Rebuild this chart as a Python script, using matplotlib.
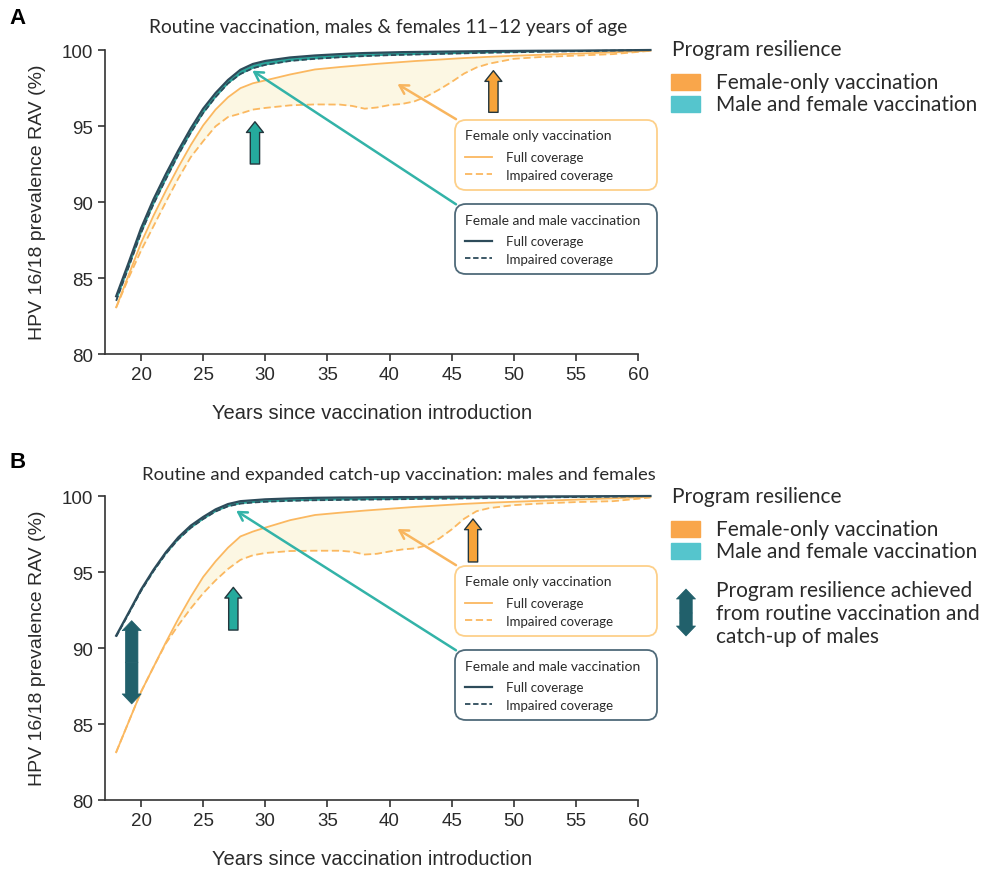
import matplotlib
matplotlib.use('Agg')
import matplotlib.pyplot as plt
from matplotlib.patches import FancyArrowPatch, Rectangle
from matplotlib.lines import Line2D

# years since vaccination introduction (shared x for every curve)
years = [18, 19, 20, 21, 22, 23, 24, 25, 26, 27, 28, 29, 30, 32, 34, 36, 37, 38,
         39, 40, 41, 42, 43, 44, 45, 46, 47, 48, 50, 52, 55, 58, 61]

# Panel A: routine vaccination, 11-12 years
mf_full_a = [83.8, 86.0, 88.27, 90.17, 91.84, 93.39, 94.84, 96.14, 97.17, 98.03, 98.7,
             99.08, 99.28, 99.51, 99.64, 99.73, 99.77, 99.8, 99.82, 99.84, 99.86, 99.87,
             99.88, 99.89, 99.9, 99.91, 99.92, 99.93, 99.94, 99.95, 99.96, 99.98, 100.0]
mf_imp_a = [83.5, 85.7, 87.95, 89.85, 91.5, 93.1, 94.55, 95.85, 96.9, 97.8, 98.42,
            98.8, 99.02, 99.28, 99.42, 99.52, 99.56, 99.6, 99.63, 99.66, 99.68, 99.7,
            99.72, 99.74, 99.76, 99.78, 99.8, 99.82, 99.85, 99.88, 99.92, 99.96, 100.0]
f_full_a = [83.07, 85.19, 87.3, 89.09, 90.74, 92.29, 93.74, 95.04, 96.08, 96.89, 97.49,
            97.81, 98.0, 98.39, 98.72, 98.88, 98.95, 99.02, 99.09, 99.15, 99.21, 99.27,
            99.32, 99.37, 99.42, 99.47, 99.51, 99.55, 99.62, 99.68, 99.76, 99.85, 99.95]
f_imp_a = [83.05, 85.0, 86.8, 88.4, 90.0, 91.55, 92.95, 94.0, 94.98, 95.59, 95.82,
           96.08, 96.19, 96.36, 96.42, 96.41, 96.32, 96.14, 96.22, 96.38, 96.45, 96.62,
           96.95, 97.4, 97.9, 98.45, 98.85, 99.1, 99.42, 99.53, 99.63, 99.73, 99.95]

# Panel B: routine + expanded catch-up
mf_full_b = [90.81, 92.32, 93.84, 95.14, 96.3, 97.28, 98.05, 98.62, 99.12, 99.47, 99.66,
             99.72, 99.78, 99.84, 99.88, 99.9, 99.9, 99.91, 99.92, 99.92, 99.93, 99.93,
             99.94, 99.94, 99.95, 99.95, 99.95, 99.96, 99.96, 99.97, 99.98, 99.99, 100.0]
mf_imp_b = [90.75, 92.25, 93.75, 95.05, 96.2, 97.15, 97.9, 98.48, 98.98, 99.32, 99.5,
            99.57, 99.62, 99.68, 99.72, 99.74, 99.75, 99.76, 99.77, 99.78, 99.79, 99.8,
            99.81, 99.82, 99.83, 99.84, 99.85, 99.86, 99.88, 99.9, 99.93, 99.96, 100.0]
f_full_b = [83.14, 85.13, 87.11, 88.74, 90.37, 91.92, 93.36, 94.67, 95.7, 96.6, 97.34,
            97.66, 97.92, 98.41, 98.75, 98.9, 98.97, 99.04, 99.1, 99.16, 99.22, 99.28,
            99.33, 99.38, 99.43, 99.48, 99.52, 99.56, 99.62, 99.68, 99.76, 99.85, 99.95]
f_imp_b = [83.14, 85.13, 87.11, 88.74, 90.3, 91.5, 92.6, 93.6, 94.45, 95.2, 95.8,
           96.1, 96.25, 96.38, 96.4, 96.4, 96.33, 96.15, 96.2, 96.35, 96.48, 96.55,
           96.75, 97.2, 97.8, 98.5, 99.0, 99.2, 99.4, 99.5, 99.6, 99.66, 99.9]

xticks = [20, 25, 30, 35, 40, 45, 50, 55, 60]
yticks = [80, 85, 90, 95, 100]

navy = '#2d4b5a'
orange_line = '#fbb860'
fill_yellow = '#fcf7e3'
teal_band = '#2aa59b'
teal_arrow = '#25aa9d'
orange_arrow = '#f7a43a'
arrow_edge = '#23363d'
dark_teal = '#21606b'
teal_ann = '#33b3a8'
orange_ann = '#f8b55e'
box_orange = '#fdd08a'
box_navy = '#4f6a79'
patch_orange = '#f9a64b'
patch_teal = '#55c5cd'
txt = '#2a2a2a'

plt.rcParams['font.family'] = ['Liberation Sans', 'DejaVu Sans']

W, H = 982, 870
fig = plt.figure(figsize=(9.82, 8.70), dpi=100)
ax_a = fig.add_axes([0.1069, 0.59195, 0.5580, 0.35816])
ax_b = fig.add_axes([0.1069, 0.07931, 0.5580, 0.35816])

up_style = 'simple,head_length=0.77,head_width=1.22,tail_width=0.67'


def draw_panel(ax, mf_full, mf_imp, f_full, f_imp, teal_up, orange_up, teal_tip, orange_tip):
    ax.fill_between(years, f_imp, f_full, color=fill_yellow, lw=0, zorder=1)
    ax.fill_between(years, mf_imp, mf_full, color=teal_band, lw=0, zorder=2)
    ax.plot(years, f_full, color=orange_line, lw=1.3, zorder=3)
    ax.plot(years, f_imp, color=orange_line, lw=1.3, ls=(0, (4, 2)), zorder=3)
    ax.plot(years, mf_full, color=navy, lw=1.6, zorder=4)
    ax.plot(years, mf_imp, color=navy, lw=1.3, ls=(0, (3, 1.5)), zorder=4)

    # fat "resilience" arrows
    for (x, y0, y1), fc in [(teal_up, teal_arrow), (orange_up, orange_arrow)]:
        ax.add_patch(FancyArrowPatch((x, y0), (x, y1), arrowstyle=up_style, mutation_scale=10,
                                     fc=fc, ec=arrow_edge, lw=1, zorder=6, shrinkA=0, shrinkB=0))

    # pointer lines from the legend boxes to the curves
    ax.annotate('', xy=orange_tip, xytext=(45.35, 95.45),
                arrowprops=dict(arrowstyle='->,head_length=0.6,head_width=0.35', color=orange_ann,
                                lw=1.8, shrinkA=0, shrinkB=0), zorder=5)
    ax.annotate('', xy=teal_tip, xytext=(45.35, 89.85),
                arrowprops=dict(arrowstyle='->,head_length=0.6,head_width=0.35', color=teal_ann,
                                lw=1.8, shrinkA=0, shrinkB=0), zorder=5)

    # the two inset legends
    h1 = [Line2D([], [], color=orange_line, lw=1.3),
          Line2D([], [], color=orange_line, lw=1.3, ls=(0, (4, 2)))]
    h2 = [Line2D([], [], color=navy, lw=1.6),
          Line2D([], [], color=navy, lw=1.3, ls=(0, (3, 1.5)))]
    legs = []
    for hh, title, ec, top in [(h1, 'Female only vaccination', box_orange, 0.751),
                               (h2, 'Female and male vaccination', box_navy, 0.481)]:
        leg = ax.legend(hh, ['Full coverage', 'Impaired coverage'], title=title,
                        loc='upper left', bbox_to_anchor=(0.639, top - 0.3, 0.369, 0.3),
                        mode='expand', borderaxespad=0, alignment='left',
                        prop={'family': 'Lato', 'size': 9.5},
                        title_fontproperties={'family': 'Lato', 'size': 10},
                        handlelength=2.1, handletextpad=1.0, labelspacing=0.42,
                        borderpad=0.72, framealpha=1, edgecolor=ec, fancybox=True)
        leg._legend_box.sep = 7.0  # a bit more room under the title
        leg.get_frame().set_linewidth(1.3)
        leg.get_frame().set_boxstyle('round', pad=0, rounding_size=0.8)
        for t in leg.get_texts():
            t.set_color(txt)
        leg.get_title().set_color(txt)
        leg.set_zorder(7)
        legs.append(leg)
    ax.add_artist(legs[0])

    ax.set_xlim(17.1, 61.2)
    ax.set_ylim(80, 100.5)
    ax.spines[['top', 'right']].set_visible(False)
    ax.spines['left'].set_bounds(80, 100)
    ax.spines['bottom'].set_bounds(17.1, 60)
    for s in ['left', 'bottom']:
        ax.spines[s].set_linewidth(1.2)
        ax.spines[s].set_color('#333333')
    ax.set_xticks(xticks)
    ax.set_yticks(yticks)
    ax.tick_params(direction='out', length=5, width=1.2, labelsize=13.5, color='#333333',
                   labelcolor=txt)
    ax.set_xlabel('Years since vaccination introduction', fontsize=14.5, color=txt)
    ax.xaxis.set_label_coords(0.487, -0.158)
    ax.set_ylabel('HPV 16/18 prevalence RAV (%)', fontsize=14, color=txt)
    ax.yaxis.set_label_coords(-0.108, 0.49)


draw_panel(ax_a, mf_full_a, mf_imp_a, f_full_a, f_imp_a,
           (29.17, 92.5, 95.28), (48.36, 95.9, 98.64), (28.96, 98.64), (40.64, 97.76))
draw_panel(ax_b, mf_full_b, mf_imp_b, f_full_b, f_imp_b,
           (27.43, 91.18, 93.99), (46.72, 95.66, 98.49), (27.66, 99.03), (40.64, 97.83))

# double-headed arrow in panel B (catch-up gain)
dbl_style = 'simple,head_length=0.72,head_width=1.37,tail_width=0.9'
for y_end in (91.8, 86.32):
    ax_b.add_patch(FancyArrowPatch((19.25, 89.06), (19.25, y_end), arrowstyle=dbl_style,
                                   mutation_scale=10, fc=dark_teal, ec=dark_teal, lw=0.5,
                                   zorder=6, shrinkA=0, shrinkB=0))

# panel letters and subtitles
fig.text(18 / W, 1 - 18 / H, 'A', fontsize=16, fontweight='bold', ha='center', va='center')
fig.text(18 / W, 1 - 463 / H, 'B', fontsize=16, fontweight='bold', ha='center', va='center')
fig.text(388 / W, 1 - 28 / H, 'Routine vaccination, males & females 11\u201312 years of age',
         fontsize=13.8, family='Lato', color=txt, ha='center', va='center')
fig.text(399 / W, 1 - 475 / H, 'Routine and expanded catch-up vaccination: males and females',
         fontsize=13.3, family='Lato', color=txt, ha='center', va='center')


# right-hand "Program resilience" keys
def side_legend(y0, with_arrow):
    fig.text(672 / W, 1 - y0 / H, 'Program resilience', fontsize=15, family='Lato',
             color=txt, va='center')
    for dy, col, lab in [(33, patch_orange, 'Female-only vaccination'),
                         (55, patch_teal, 'Male and female vaccination')]:
        fig.add_artist(Rectangle((671 / W, 1 - (y0 + dy + 8) / H), 29 / W, 16 / H,
                                 transform=fig.transFigure, color=col))
        fig.text(716 / W, 1 - (y0 + dy) / H, lab, fontsize=15, family='Lato',
                 color=txt, va='center')
    if with_arrow:
        mid = y0 + 117
        for end in (y0 + 93, y0 + 140):
            fig.add_artist(FancyArrowPatch((686 / W, 1 - mid / H), (686 / W, 1 - end / H),
                                           transform=fig.transFigure, arrowstyle=dbl_style,
                                           mutation_scale=10, fc=dark_teal, ec=dark_teal,
                                           lw=0.5, shrinkA=0, shrinkB=0))
        fig.text(716 / W, 1 - mid / H,
                 'Program resilience achieved\nfrom routine vaccination and\ncatch-up of males',
                 fontsize=15, family='Lato', color=txt, va='center', linespacing=1.18)


side_legend(50, False)
side_legend(497, True)

fig.savefig('out.png', dpi=100)
